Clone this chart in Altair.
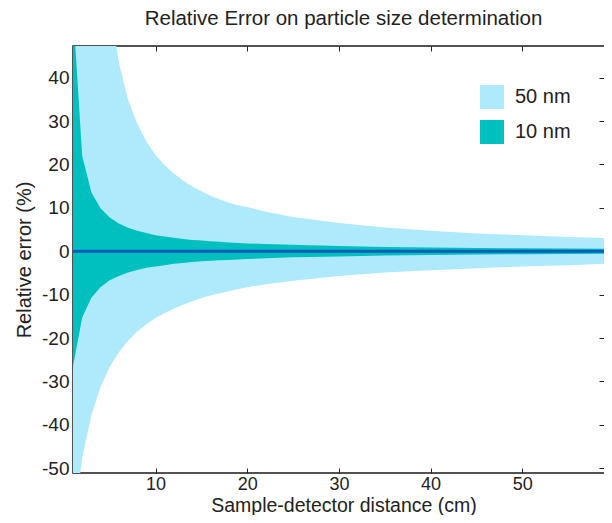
import altair as alt
import pandas as pd

# Sample-detector distance (cm)
distance = [1, 2, 3, 4, 5, 6, 7, 8, 9, 10, 11, 12, 13, 14, 15, 16, 17, 18, 19, 20,
            22, 25, 30, 35, 40, 45, 50, 55, 60]

# 50 nm band (upper / lower relative error, %)
upper_50 = [160, 150, 140, 84, 57, 43.5, 35.0, 29.4, 25.3, 22.2, 19.8, 17.9, 16.3, 14.9, 13.8,
            12.8, 12.0, 11.2, 10.6, 10.2, 9.1, 7.9, 6.5, 5.5, 4.7, 4.1, 3.7, 3.3, 3.0]
lower_50 = [-64.5, -47.6, -37.8, -31.3, -26.7, -23.3, -20.6, -18.5, -16.8, -15.4, -14.2, -13.2,
            -12.3, -11.5, -10.8, -10.2, -9.7, -9.2, -8.7, -8.3, -7.6, -6.8, -5.7, -4.9, -4.4,
            -3.9, -3.5, -3.2, -2.8]

# 10 nm band (upper / lower relative error, %)
upper_10 = [56, 22, 13.6, 9.9, 7.8, 6.4, 5.4, 4.7, 4.2, 3.7, 3.4, 3.1, 2.8, 2.6, 2.5, 2.3, 2.2,
            2.0, 1.9, 1.8, 1.7, 1.5, 1.2, 1.0, 0.85, 0.75, 0.68, 0.62, 0.57]
lower_10 = [-26.5, -15.3, -10.7, -8.3, -6.7, -5.7, -4.9, -4.3, -3.8, -3.5, -3.2, -2.9, -2.7, -2.5,
            -2.3, -2.2, -2.1, -2.0, -1.9, -1.8, -1.6, -1.4, -1.2, -1.0, -0.85, -0.75, -0.68,
            -0.62, -0.57]

zero_line = [0] * len(distance)

series_names = ["50 nm", "10 nm"]
series_colors = ["#aeeafc", "#00bfbf"]

x_ticks = [10, 20, 30, 40, 50]
y_ticks = [-50, -40, -30, -20, -10, 0, 10, 20, 30, 40]

df = pd.DataFrame({
    "distance": distance,
    "upper_50": upper_50,
    "lower_50": lower_50,
    "upper_10": upper_10,
    "lower_10": lower_10,
    "zero": zero_line,
})

FONT = "Liberation Sans"
INK = "#222222"

x_scale = alt.Scale(domain=[1, 60], nice=False, zero=False)
y_scale = alt.Scale(domain=[-51.1, 47.3], nice=False, zero=False)
color_scale = alt.Scale(domain=series_names, range=series_colors)

legend = alt.Legend(
    title=None, orient="none", legendX=407, legendY=39, padding=0,
    symbolType="square", symbolSize=576, symbolStrokeWidth=0, symbolOpacity=1,
    labelFont=FONT, labelFontSize=20, labelColor=INK, labelOffset=11, rowPadding=11,
)

x_axis_bottom = alt.Axis(
    orient="bottom", values=x_ticks, title="Sample-detector distance (cm)",
    domain=False, grid=False, ticks=True, tickSize=5, offset=-5, tickColor=INK,
    labelPadding=2, labelFont=FONT, labelFontSize=18, labelColor=INK,
    titleFont=FONT, titleFontSize=19.5, titleFontWeight="normal", titleColor=INK,
    titleBaseline="alphabetic", titleY=43,
)
y_axis_left = alt.Axis(
    orient="left", values=y_ticks, title="Relative error (%)",
    domain=False, grid=False, ticks=True, tickSize=5, offset=-5, tickColor=INK,
    labelPadding=4, labelFont=FONT, labelFontSize=19, labelColor=INK,
    labelExpr="'' + datum.value",
    titleFont=FONT, titleFontSize=20, titleFontWeight="normal", titleColor=INK,
    titlePadding=7,
)
x_axis_top = alt.Axis(
    orient="top", values=x_ticks, title=None, labels=False,
    domain=False, grid=False, ticks=True, tickSize=5, offset=-5, tickColor=INK,
)
y_axis_right = alt.Axis(
    orient="right", values=y_ticks, title=None, labels=False,
    domain=False, grid=False, ticks=True, tickSize=5, offset=-15, tickColor=INK,
)

base = alt.Chart(df)

area50 = base.transform_calculate(series="'50 nm'").mark_area(
    clip=True, opacity=1, interpolate="linear"
).encode(
    x=alt.X("distance:Q", scale=x_scale, axis=x_axis_bottom),
    y=alt.Y("upper_50:Q", scale=y_scale, axis=y_axis_left),
    y2="lower_50:Q",
    color=alt.Color("series:N", scale=color_scale, legend=legend),
)

area10 = base.transform_calculate(series="'10 nm'").mark_area(
    clip=True, opacity=1, interpolate="linear"
).encode(
    x=alt.X("distance:Q", scale=x_scale, axis=None),
    y=alt.Y("upper_10:Q", scale=y_scale, axis=None),
    y2="lower_10:Q",
    color=alt.Color("series:N", scale=color_scale, legend=legend),
)

zero = base.mark_line(clip=True, color="#0b5db8", strokeWidth=3).encode(
    x=alt.X("distance:Q", scale=x_scale, axis=x_axis_top),
    y=alt.Y("zero:Q", scale=y_scale, axis=y_axis_right),
)

chart = (
    alt.layer(area50, area10, zero)
    .resolve_axis(x="independent", y="independent")
    .properties(
        width=541,
        height=427,
        autosize=alt.AutoSizeParams(type="none"),
        padding={"left": 65, "top": 38, "right": -10, "bottom": 42},
        title=alt.TitleParams(
            "Relative Error on particle size determination",
            font=FONT, fontSize=20.5, fontWeight="normal", color=INK,
            anchor="middle", baseline="alphabetic", offset=0, frame="group",
        ),
        background="white",
    )
    .configure_view(stroke="#1a1a1a", strokeWidth=1.5)
)

chart.save("out.html", embed_options={"renderer": "svg", "actions": False})
